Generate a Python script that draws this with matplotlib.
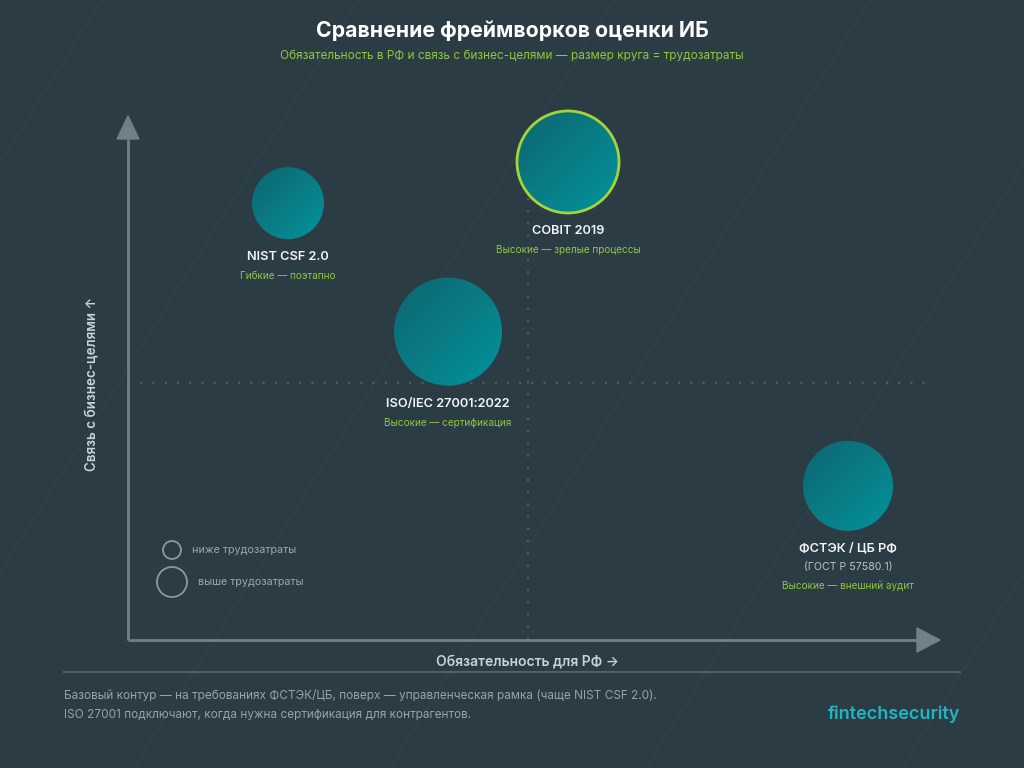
import numpy as np
import matplotlib
matplotlib.use("Agg")
import matplotlib.pyplot as plt
from matplotlib.patches import Circle, Polygon
from matplotlib.lines import Line2D
import matplotlib.transforms as mtransforms
from matplotlib.colors import LinearSegmentedColormap

# ---------------- data ----------------
names = ["NIST CSF 2.0", "COBIT 2019", "ISO/IEC 27001:2022", "ФСТЭК / ЦБ РФ"]
notes = ["", "", "", "(ГОСТ Р 57580.1)"]
tags = ["Гибкие — поэтапно", "Высокие — зрелые процессы",
        "Высокие — сертификация", "Высокие — внешний аудит"]
mandatory = [2.0, 5.5, 4.0, 9.0]      # x: обязательность для РФ (0..10)
business = [8.5, 9.3, 6.0, 3.0]       # y: связь с бизнес-целями (0..10)
effort = [3.6, 5.1, 5.4, 4.5]         # размер круга = трудозатраты
highlight = [False, True, False, False]
legend_labels = ["ниже трудозатраты", "выше трудозатраты"]
legend_effort = [0.9, 1.5]

title = "Сравнение фреймворков оценки ИБ"
subtitle = "Обязательность в РФ и связь с бизнес-целями — размер круга = трудозатраты"
xlabel = "Обязательность для РФ →"
ylabel = "Связь с бизнес-целями ↑"
footer = ["Базовый контур — на требованиях ФСТЭК/ЦБ, поверх — управленческая рамка (чаще NIST CSF 2.0).",
          "ISO 27001 подключают, когда нужна сертификация для контрагентов."]
brand = "fintechsecurity"

# ---------------- style ----------------
BG = "#2c3c44"
AXIS = "#6e8088"
GRID = "#4b5e66"
GREEN = "#8fc640"
WHITE = "#f2f5f6"
GREY = "#9aa7ad"
FONT = ["Inter", "DejaVu Sans"]
plt.rcParams["font.family"] = FONT

W, H, DPI = 1024, 768, 100
fig = plt.figure(figsize=(W / DPI, H / DPI), dpi=DPI, facecolor=BG)

# faint decorative diagonals
for x0 in [-168, 88, 344, 600, 856, 1112]:
    ys = np.array([0, H])
    xs = x0 + (432 - ys) / 1.6
    fig.add_artist(Line2D(xs / W, 1 - ys / H, transform=fig.transFigure,
                          color="#31424a", lw=1.0, zorder=0))

# plot region: x 128..928 px, y 640 (bottom) .. 100 px (top); 51.4 px per y unit
AX_L, AX_B, AX_W, AX_H = 128, 640, 800, 540
ax = fig.add_axes([AX_L / W, (H - AX_B) / H, AX_W / W, AX_H / H])
ax.set_facecolor("none")
YTOP = 10 * AX_H / 514
ax.set_xlim(0, 10)
ax.set_ylim(0, YTOP)
ax.axis("off")

def fx(px):
    return (px - AX_L) / AX_W

def fy(py):
    return (AX_B - py) / AX_H

# quadrant dotted lines
ax.plot([5, 5], [0, 9.75], color=GRID, lw=1.6, ls=(0, (1, 4.5)), zorder=1)
ax.plot([0, 10], [5, 5], color=GRID, lw=1.6, ls=(0, (1, 4.5)), zorder=1)

# axes arrows
ax.plot([0, 0], [0, fy(139)], color=AXIS, lw=2, transform=ax.transAxes,
        clip_on=False, zorder=2, solid_capstyle="butt")
ax.plot([0, fx(917)], [0, 0], color=AXIS, lw=2, transform=ax.transAxes,
        clip_on=False, zorder=2, solid_capstyle="butt")
ax.add_patch(Polygon([[-11 / AX_W, fy(139)], [11 / AX_W, fy(139)], [0, fy(116)]],
                     closed=True, transform=ax.transAxes, color=AXIS, clip_on=False, zorder=2))
ax.add_patch(Polygon([[fx(917), 12 / AX_H], [fx(917), -12 / AX_H], [fx(940), 0]],
                     closed=True, transform=ax.transAxes, color=AXIS, clip_on=False, zorder=2))

cmap = LinearSegmentedColormap.from_list("teal", ["#0c6570", "#0a7c85", "#00959d"])
n = 200
ii, jj = np.mgrid[0:n, 0:n] / (n - 1)
grad = (ii + jj) / 2

inv = ax.transData.inverted()
for x, y, e, hl, name, note, tag in zip(mandatory, business, effort, highlight, names, notes, tags):
    r_in = e / 10.0
    r_px = r_in * DPI
    trans = fig.dpi_scale_trans + mtransforms.ScaledTranslation(x, y, ax.transData)
    circ = Circle((0, 0), r_in, transform=trans, facecolor="none",
                  edgecolor="#a5d43a" if hl else "none", lw=2.0 if hl else 0, zorder=4)
    ax.add_patch(circ)
    cx, cy = ax.transData.transform((x, y))
    (x0, y0) = inv.transform((cx - r_px - 2, cy - r_px - 2))
    (x1, y1) = inv.transform((cx + r_px + 2, cy + r_px + 2))
    im = ax.imshow(grad, cmap=cmap, extent=[x0, x1, y0, y1], origin="upper",
                   aspect="auto", zorder=3, interpolation="bilinear")
    clipc = Circle((0, 0), r_in, transform=trans)
    im.set_clip_path(clipc)

    off = -(r_px + 18) * 0.72
    ax.annotate(name, xy=(x, y), xytext=(0, off), textcoords="offset points",
                ha="center", va="center", color=WHITE, fontsize=9.2, fontweight="semibold", zorder=5)
    k = 1
    if note:
        ax.annotate(note, xy=(x, y), xytext=(0, off - 18 * 0.72), textcoords="offset points",
                    ha="center", va="center", color="#b9c3c8", fontsize=7.6, zorder=5)
        k = 2
    ax.annotate(tag, xy=(x, y), xytext=(0, off - (18 * k + 1) * 0.72), textcoords="offset points",
                ha="center", va="center", color=GREEN, fontsize=7.2, zorder=5)

ax.set_xlim(0, 10)
ax.set_ylim(0, YTOP)

# size legend
leg_x = fx(172)
leg_y = [fy(550), fy(582)]
for ly, e, lab in zip(leg_y, legend_effort, legend_labels):
    r_in = e / 10.0
    trans = fig.dpi_scale_trans + mtransforms.ScaledTranslation(leg_x, ly, ax.transAxes)
    ax.add_patch(Circle((0, 0), r_in, transform=trans, facecolor="none",
                        edgecolor="#8a989f", lw=1.3, clip_on=False, zorder=4))
    ax.annotate(lab, xy=(leg_x, ly), xycoords="axes fraction",
                xytext=((r_in * DPI + 11) * 0.72, 0), textcoords="offset points",
                ha="left", va="center", color=GREY, fontsize=7.8)

# titles
fig.text(0.5, 1 - 31 / H, title, ha="center", va="center", color="white",
         fontsize=15.3, fontweight="bold")
fig.text(0.5, 1 - 56 / H, subtitle, ha="center", va="center", color=GREEN, fontsize=8.5)

# axis labels
fig.text(528 / W, 1 - 661 / H, xlabel, ha="center", va="center", color="#c9d2d6",
         fontsize=10, fontweight="semibold")
fig.text(92 / W, 1 - 384 / H, ylabel, ha="center", va="center", color="#c9d2d6",
         fontsize=9.7, fontweight="semibold", rotation=90)

# separator & footer
fig.add_artist(Line2D([64 / W, 960 / W], [1 - 672 / H, 1 - 672 / H], transform=fig.transFigure,
                      color="#4f6169", lw=1.5))
fig.text(64 / W, 1 - 696 / H, footer[0], ha="left", va="center", color="#95a3a9", fontsize=8.5)
fig.text(64 / W, 1 - 715 / H, footer[1], ha="left", va="center", color="#95a3a9", fontsize=8.5)
fig.text(960 / W, 1 - 714 / H, brand, ha="right", va="center", color="#1db7c4",
         fontsize=13, fontweight="semibold")

fig.savefig("out.png", dpi=DPI, facecolor=BG)
